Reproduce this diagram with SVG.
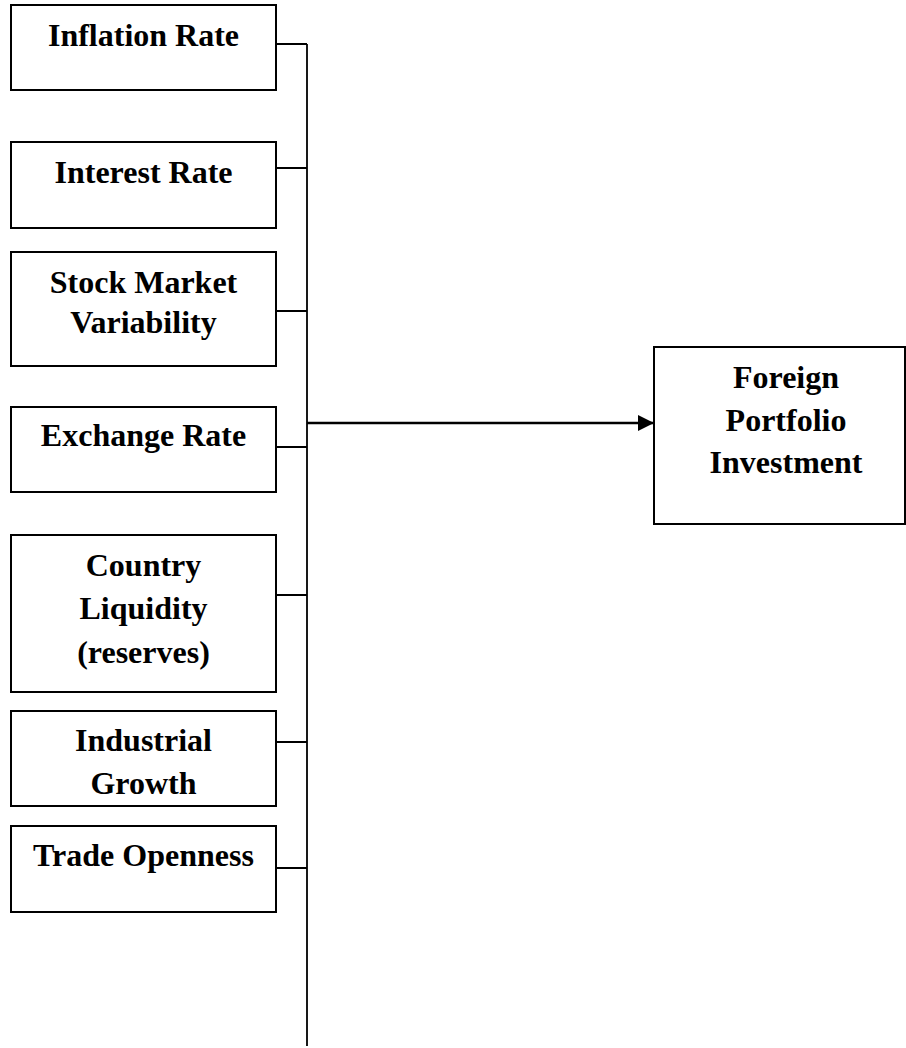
<svg xmlns="http://www.w3.org/2000/svg" width="906" height="1048" viewBox="0 0 906 1048">
<style>
.box{fill:#fff;stroke:#000;stroke-width:2}
.t{font-family:"Liberation Serif","Times New Roman",serif;font-weight:bold;font-size:32px;fill:#000;text-anchor:middle}
.c{fill:none;stroke:#000;stroke-width:1.8}
</style>
<defs>
<marker id="ah2" markerWidth="16" markerHeight="16" refX="16" refY="8" orient="auto" markerUnits="userSpaceOnUse" viewBox="0 0 16 16">
<path d="M0,0 L16,8 L0,16 Z" fill="#000"/>
</marker>
</defs>
<g id="connectors">
<path class="c" d="M276,44 H307 M307,44 V1046 M276,168 H307 M276,311 H307 M276,447 H307 M276,595 H307 M276,742 H307 M276,868 H307"/>
<path d="M307,423 H654" stroke="#000" stroke-width="2.5" fill="none" marker-end="url(#ah2)"/>
</g>
<g id="inflation"><rect class="box" x="11" y="5" width="265" height="85"/><text class="t" x="143.5" y="46">Inflation Rate</text></g>
<g id="interest"><rect class="box" x="11" y="142" width="265" height="86"/><text class="t" x="143.5" y="183">Interest Rate</text></g>
<g id="stock"><rect class="box" x="11" y="252" width="265" height="114"/><text class="t" x="143.5" y="293">Stock Market</text><text class="t" x="143.5" y="333">Variability</text></g>
<g id="exchange"><rect class="box" x="11" y="407" width="265" height="85"/><text class="t" x="143.5" y="446">Exchange Rate</text></g>
<g id="liquidity"><rect class="box" x="11" y="535" width="265" height="157"/><text class="t" x="143.5" y="576">Country</text><text class="t" x="143.5" y="619">Liquidity</text><text class="t" x="143.5" y="663">(reserves)</text></g>
<g id="industrial"><rect class="box" x="11" y="711" width="265" height="95"/><text class="t" x="143.5" y="751">Industrial</text><text class="t" x="143.5" y="794">Growth</text></g>
<g id="trade"><rect class="box" x="11" y="826" width="265" height="86"/><text class="t" x="143.5" y="866">Trade Openness</text></g>
<g id="fpi"><rect class="box" x="654" y="347" width="251" height="177"/><text class="t" x="786" y="388">Foreign</text><text class="t" x="786" y="431">Portfolio</text><text class="t" x="786" y="473">Investment</text></g>
</svg>
